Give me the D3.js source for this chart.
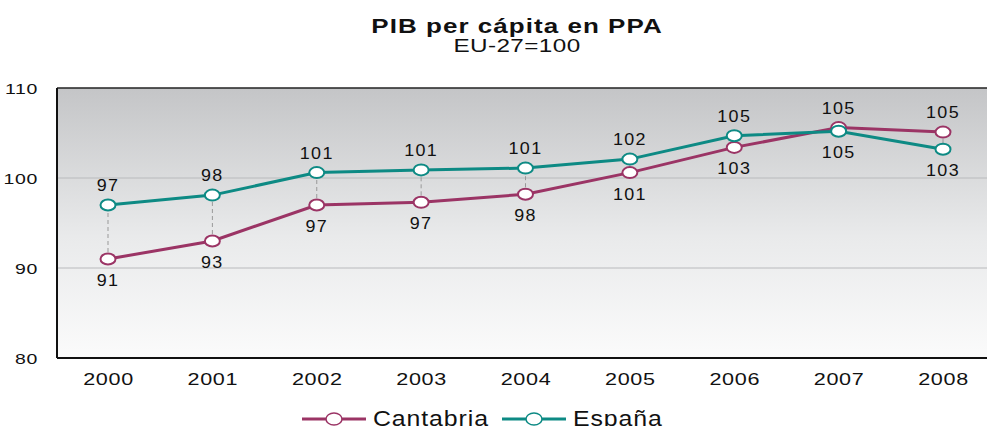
<!DOCTYPE html>
<html><head><meta charset="utf-8">
<script src="https://cdn.jsdelivr.net/npm/d3@7"></script>
<style>body{margin:0;background:#fff;}svg{display:block;font-family:"Liberation Sans",Arial,sans-serif;}</style>
</head><body>
<svg id="c" width="987" height="426"></svg>
<script>
const years = ["2000","2001","2002","2003","2004","2005","2006","2007","2008"];
const cantabria = [91.0, 93.0, 97.0, 97.3, 98.2, 100.6, 103.4, 105.6, 105.1];
const espana = [97.0, 98.1, 100.6, 100.9, 101.1, 102.1, 104.7, 105.2, 103.2];
const cantabriaLabels = ["91","93","97","97","98","101","103","105","105"];
const espanaLabels = ["97","98","101","101","101","102","105","105","103"];
const yTicks = [80, 90, 100, 110];
const colCant = "#9b3465", colEsp = "#0d8a84";

const svg = d3.select("#c");
const L = 57, R = 995, T = 88, B = 358;
const x = d3.scalePoint().domain(years).range([108, 943]);
const y = d3.scaleLinear().domain([80, 110]).range([B, T]);

const defs = svg.append("defs");
const g = defs.append("linearGradient").attr("id","bg").attr("x1",0).attr("y1",0).attr("x2",0).attr("y2",1);
g.append("stop").attr("offset","0%").attr("stop-color","#c4c5c7");
g.append("stop").attr("offset","55%").attr("stop-color","#e9eaeb");
g.append("stop").attr("offset","100%").attr("stop-color","#fbfbfb");
svg.append("rect").attr("x",L).attr("y",T).attr("width",R-L).attr("height",B-T).attr("fill","url(#bg)");

// gridlines
svg.append("g").selectAll("line").data([90,100]).join("line")
  .attr("x1",L).attr("x2",R).attr("y1",d=>y(d)).attr("y2",d=>y(d))
  .attr("stroke","#b9babc").attr("stroke-width",1);

// frame
svg.append("line").attr("x1",L).attr("x2",R).attr("y1",T).attr("y2",T).attr("stroke","#222").attr("stroke-width",1.5);
svg.append("line").attr("x1",L).attr("x2",R).attr("y1",B).attr("y2",B).attr("stroke","#111").attr("stroke-width",2);
svg.append("line").attr("x1",L).attr("x2",L).attr("y1",T).attr("y2",B).attr("stroke","#111").attr("stroke-width",2);

// y axis labels
const yAxis = d3.axisLeft(y).tickValues(yTicks).tickSize(0).tickPadding(0);
const ya = svg.append("g").attr("transform",`translate(38,0)`).call(yAxis);
ya.select(".domain").remove();
ya.selectAll("text").attr("font-size",15).attr("fill","#111").attr("font-family","Liberation Sans, Arial, sans-serif")
  .attr("dy","0.35em").attr("transform","scale(1.3,1)").style("letter-spacing","0.5px");

// x axis labels
const xAxis = d3.axisBottom(x).tickSize(0).tickPadding(0);
const xa = svg.append("g").attr("transform",`translate(0,374)`).call(xAxis);
xa.select(".domain").remove();
xa.selectAll("text").attr("font-size",16).attr("fill","#111").attr("font-family","Liberation Sans, Arial, sans-serif")
  .attr("dy","0.71em").attr("transform","scale(1.35,1)").style("letter-spacing","0.5px");

// dashed connectors
svg.append("g").selectAll("line").data(years).join("line")
  .attr("x1",d=>x(d)).attr("x2",d=>x(d))
  .attr("y1",(d,i)=>y(cantabria[i])).attr("y2",(d,i)=>y(espana[i]))
  .attr("stroke","#999").attr("stroke-width",1).attr("stroke-dasharray","4,3");

const line = d3.line().x((d,i)=>x(years[i])).y(d=>y(d));
function series(vals, col){
  svg.append("path").datum(vals).attr("d",line).attr("fill","none").attr("stroke",col).attr("stroke-width",3);
  svg.append("g").selectAll("ellipse").data(vals).join("ellipse")
    .attr("cx",(d,i)=>x(years[i])).attr("cy",d=>y(d)).attr("rx",7.5).attr("ry",5.5)
    .attr("fill","#fff").attr("stroke",col).attr("stroke-width",2);
}
series(cantabria, colCant);
series(espana, colEsp);

// labels: above if this series is higher
function labels(vals, other, texts){
  svg.append("g").selectAll("text").data(vals).join("text")
    .attr("transform",(d,i)=>`translate(${x(years[i])},${d >= other[i] ? y(d)-14 : y(d)+27}) scale(1.12,1)`)
    .attr("text-anchor","middle").attr("font-size",16).attr("fill","#111")
    .style("letter-spacing","1.2px")
    .text((d,i)=>texts[i]);
}
labels(cantabria, espana, cantabriaLabels);
labels(espana, cantabria, espanaLabels);

// title
svg.append("text").attr("transform","translate(517,33) scale(1.3,1)").attr("text-anchor","middle")
  .attr("font-size",20).attr("font-weight","bold").attr("fill","#111").style("letter-spacing","0.8px").text("PIB per cápita en PPA");
svg.append("text").attr("transform","translate(517,52) scale(1.35,1)").attr("text-anchor","middle")
  .attr("font-size",18).attr("fill","#111").style("letter-spacing","0.3px").text("EU-27=100");

// legend
const leg = [{name:"Cantabria",col:colCant,x0:302},{name:"España",col:colEsp,x0:502}];
const lg = svg.append("g");
leg.forEach(d=>{
  lg.append("line").attr("x1",d.x0).attr("x2",d.x0+64).attr("y1",419).attr("y2",419).attr("stroke",d.col).attr("stroke-width",3);
  lg.append("ellipse").attr("cx",d.x0+32).attr("cy",419).attr("rx",8).attr("ry",6).attr("fill","#fff").attr("stroke",d.col).attr("stroke-width",1.5);
  lg.append("text").attr("transform",`translate(${d.x0+71},426) scale(1.13,1)`).attr("font-size",22).attr("fill","#111").style("letter-spacing","0.8px").text(d.name);
});
</script>
</body></html>
